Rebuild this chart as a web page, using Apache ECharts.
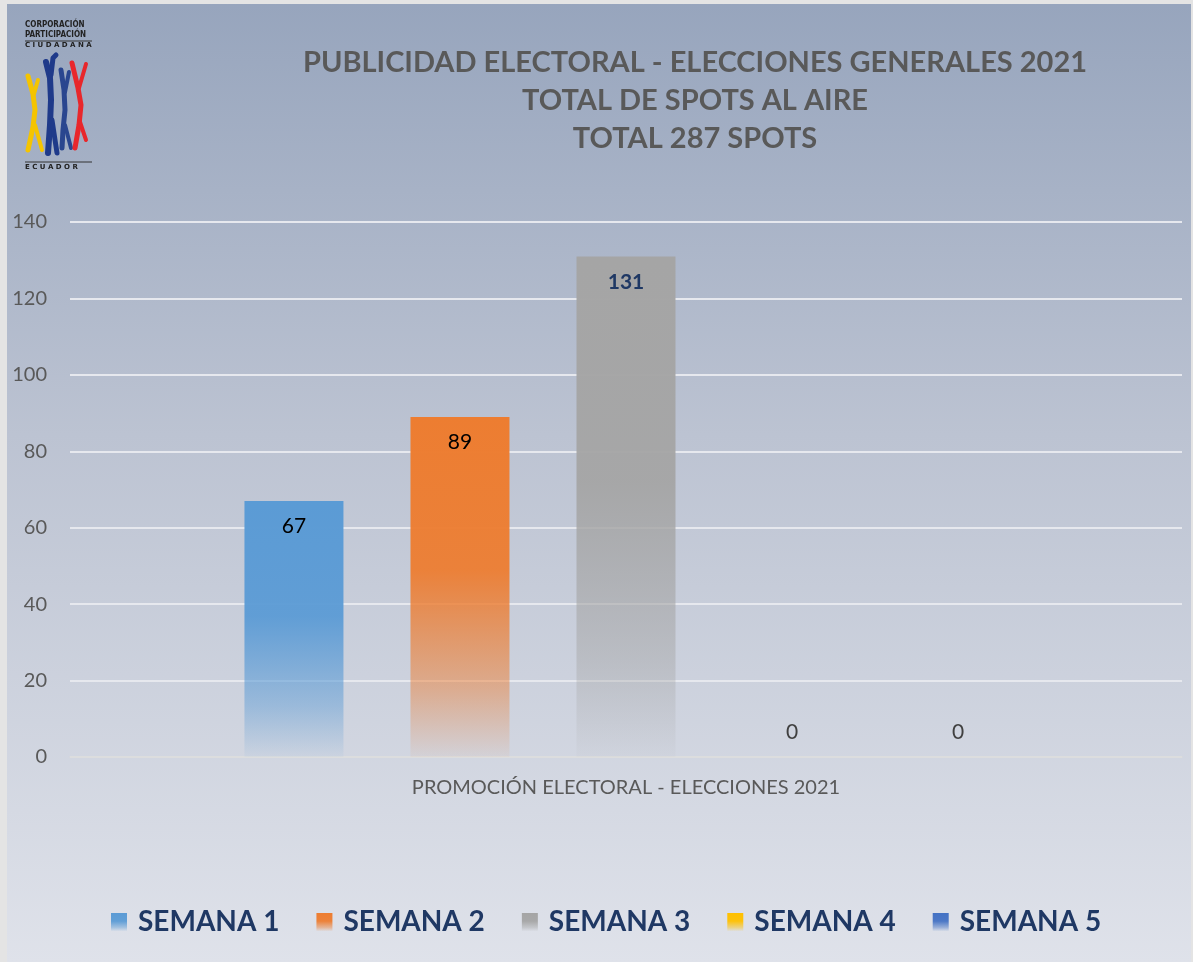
<!DOCTYPE html>
<html>
<head>
<meta charset="utf-8">
<script src="https://cdn.jsdelivr.net/npm/echarts@6/dist/echarts.min.js"></script>
<style>
html,body{margin:0;padding:0;background:#e4e4e4;}
#chart{width:1193px;height:962px;}
</style>
</head>
<body>
<div id="chart"></div>
<script>
const categories = ['PROMOCIÓN ELECTORAL - ELECCIONES 2021'];
const seriesNames = ['SEMANA 1', 'SEMANA 2', 'SEMANA 3', 'SEMANA 4', 'SEMANA 5'];
const semana1 = [67];
const semana2 = [89];
const semana3 = [131];
const semana4 = [0];
const semana5 = [0];
const titleLines = ['PUBLICIDAD ELECTORAL - ELECCIONES GENERALES 2021', 'TOTAL DE SPOTS AL AIRE', 'TOTAL 287 SPOTS'];

const values = [semana1, semana2, semana3, semana4, semana5];
const baseColors = ['#5b9bd5', '#ed7d31', '#a5a5a5', '#ffc000', '#4472c4'];
const labelStyles = [
  {color: '#000000', fontWeight: 'normal', position: 'insideTop', distance: 15},
  {color: '#000000', fontWeight: 'normal', position: 'insideTop', distance: 15},
  {color: '#1f3864', fontWeight: 'bold', position: 'insideTop', distance: 15},
  {color: '#404040', fontWeight: 'normal', position: 'top', distance: 14},
  {color: '#404040', fontWeight: 'normal', position: 'top', distance: 14}
];

function grad(c) {
  return new echarts.graphic.LinearGradient(0, 0, 0, 1, [
    {offset: 0, color: c},
    {offset: 0.45, color: echarts.color.modifyAlpha(c, 0.95)},
    {offset: 0.8, color: echarts.color.modifyAlpha(c, 0.45)},
    {offset: 1, color: echarts.color.modifyAlpha(c, 0.05)}
  ]);
}

const FONT = 'Lato, "Open Sans", sans-serif';

const series = seriesNames.map((n, i) => ({
  name: n,
  type: 'bar',
  data: values[i],
  barWidth: 99,
  barGap: '67.7%',
  itemStyle: {color: grad(baseColors[i])},
  label: {
    show: true,
    position: labelStyles[i].position,
    distance: labelStyles[i].distance,
    color: labelStyles[i].color,
    fontWeight: labelStyles[i].fontWeight,
    fontSize: 21,
    fontFamily: FONT
  }
}));

function fig(points, color, w) {
  return {type: 'polyline', shape: {points: points}, style: {stroke: color, lineWidth: w, lineCap: 'round', lineJoin: 'round', fill: null}, z: 10};
}

const logo = [
  {type: 'text', x: 25, y: 21, style: {text: 'CORPORACIÓN', font: 'bold 8px "DejaVu Sans Condensed", sans-serif', fill: '#222'}, z: 10},
  {type: 'text', x: 25, y: 31, style: {text: 'PARTICIPACIÓN', font: 'bold 8px "DejaVu Sans Condensed", sans-serif', fill: '#222'}, z: 10},
  {type: 'line', shape: {x1: 25, y1: 41, x2: 92, y2: 41}, style: {stroke: '#333', lineWidth: 1}, z: 10},
  {type: 'text', x: 25, y: 42, style: {text: 'C I U D A D A N A', font: 'bold 7px "DejaVu Sans", sans-serif', fill: '#222'}, z: 10},
  fig([[28,76],[33,94],[35,110],[33,127],[28,150]], '#f5c400', 5),
  fig([[34,94],[38,80]], '#f5c400', 4),
  fig([[35,125],[42,150]], '#f5c400', 4),
  fig([[46,62],[50,78],[51,100],[50,125],[48,153]], '#1f3a8a', 6),
  fig([[51,75],[53,58],[56,55]], '#1f3a8a', 5),
  fig([[52,120],[57,153]], '#1f3a8a', 5),
  fig([[61,70],[64,90],[65,110],[63,130],[62,148]], '#2a468f', 5),
  fig([[65,92],[69,72]], '#2a468f', 4),
  fig([[65,125],[71,148]], '#2a468f', 4),
  fig([[72,63],[78,88],[81,105],[79,125],[75,148]], '#e8272b', 5),
  fig([[79,88],[86,64]], '#e8272b', 4),
  fig([[80,122],[86,140]], '#e8272b', 4),
  {type: 'line', shape: {x1: 25, y1: 162, x2: 92, y2: 162}, style: {stroke: '#333', lineWidth: 1}, z: 10},
  {type: 'text', x: 25, y: 164, style: {text: 'E C U A D O R', font: 'bold 7px "DejaVu Sans", sans-serif', fill: '#222'}, z: 10}
];

const chart = echarts.init(document.getElementById('chart'));
chart.setOption({
  backgroundColor: '#e4e4e4',
  animation: false,
  graphic: [
    {type: 'rect', shape: {x: 7, y: 4, width: 1184, height: 958}, z: -100, zlevel: 0, silent: true,
     style: {fill: new echarts.graphic.LinearGradient(0, 0, 0, 1, [
       {offset: 0, color: '#97a5bd'},
       {offset: 0.45, color: '#bcc3d2'},
       {offset: 1, color: '#dfe2ea'}
     ])}}
  ].concat(logo),
  title: {
    text: titleLines.join('\n'),
    left: 690,
    textAlign: 'center',
    top: 39,
    textStyle: {fontFamily: FONT, fontWeight: 'bold', fontSize: 29, color: '#595959', lineHeight: 38}
  },
  legend: {
    data: seriesNames,
    left: 106,
    top: 903,
    itemWidth: 16,
    itemHeight: 18,
    itemGap: 37,
    icon: 'rect',
    textStyle: {fontFamily: FONT, fontWeight: 'bold', fontSize: 28, color: '#1f3864', padding: [0, 0, 0, 6]}
  },
  grid: {left: 70, right: 11, top: 222, bottom: 205, containLabel: false},
  xAxis: {
    type: 'category',
    data: categories,
    axisLine: {show: true, lineStyle: {color: '#d9d9d9', width: 1.5}},
    axisTick: {show: false},
    axisLabel: {fontFamily: FONT, fontSize: 20, color: '#595959', margin: 21}
  },
  yAxis: {
    type: 'value',
    min: 0,
    max: 140,
    interval: 20,
    axisLine: {show: false},
    axisTick: {show: false},
    axisLabel: {fontFamily: FONT, fontSize: 20, color: '#595959', margin: 23},
    splitLine: {lineStyle: {color: '#e6e8ee', width: 2}}
  },
  series: series
});
</script>
</body>
</html>
